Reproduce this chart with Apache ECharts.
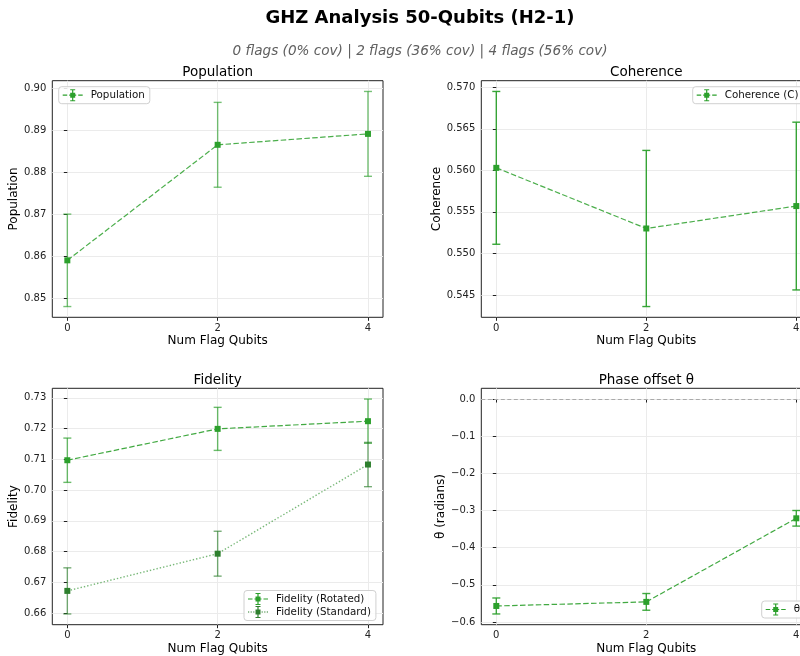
<!DOCTYPE html>
<html>
<head>
<meta charset="utf-8">
<script src="https://cdn.jsdelivr.net/npm/echarts@6/dist/echarts.min.js"></script>
<style>
  html, body { margin: 0; padding: 0; background: #fff; }
  #chart { width: 800px; height: 656px; }
</style>
</head>
<body>
<div id="chart"></div>
<script>
// values
var flagQubits = [0, 2, 4];
var xTicks = [0, 2, 4];
var population = [0.8590, 0.8865, 0.8891];
var populationErr = [0.0110, 0.0101, 0.0101];
var popTicks = [0.85, 0.86, 0.87, 0.88, 0.89, 0.90];
var coherence = [0.5603, 0.5530, 0.5557];
var coherenceErr = [0.0092, 0.0094, 0.0101];
var cohTicks = [0.545, 0.550, 0.555, 0.560, 0.565, 0.570];
var fidelityRot = [0.7097, 0.7199, 0.7224];
var fidelityRotErr = [0.0072, 0.0070, 0.0072];
var fidelityStd = [0.6672, 0.6793, 0.7083];
var fidelityStdErr = [0.0075, 0.0073, 0.0072];
var fidTicks = [0.66, 0.67, 0.68, 0.69, 0.70, 0.71, 0.72, 0.73];
var theta = [-0.557, -0.546, -0.321];
var thetaErr = [0.0215, 0.0225, 0.021];
var thetaTicks = [-0.6, -0.5, -0.4, -0.3, -0.2, -0.1, 0.0];

var FONT = 'DejaVu Sans';
var GREEN = '#2ca02c';
var DARK = '#2d7f2d';

var chart = echarts.init(document.getElementById('chart'), null, {renderer: 'canvas'});

// matplotlib-like autoscale with 5% margins
function yRange(series, extra) {
    var lo = Infinity, hi = -Infinity;
    series.forEach(function(s) {
        s[0].forEach(function(v, i) {
            lo = Math.min(lo, v - s[1][i]);
            hi = Math.max(hi, v + s[1][i]);
        });
    });
    (extra || []).forEach(function(v) { lo = Math.min(lo, v); hi = Math.max(hi, v); });
    var pad = (hi - lo) * 0.05;
    return [lo - pad, hi + pad];
}

var grids = [
    {left: 52.3, top: 80.7, width: 330.7, height: 236.6},
    {left: 481.3, top: 80.7, width: 330, height: 236.6},
    {left: 52.3, top: 388.3, width: 330.7, height: 236.4},
    {left: 481.3, top: 388.3, width: 330, height: 236.4}
].map(function(g) {
    g.show = true;
    g.borderColor = '#222';
    g.borderWidth = 1;
    g.backgroundColor = 'transparent';
    g.containLabel = false;
    g.outerBoundsMode = 'none';
    return g;
});

function xAxis(idx) {
    return {
        type: 'value', gridIndex: idx, min: -0.2, max: 4.2,
        name: 'Num Flag Qubits', nameLocation: 'middle', nameGap: 18,
        nameTextStyle: {fontFamily: FONT, fontSize: 12, color: '#000'},
        axisLine: {show: false},
        axisTick: {show: true, length: 3.5, customValues: xTicks, lineStyle: {color: '#222'}},
        axisLabel: {customValues: xTicks, margin: 6, fontFamily: FONT, fontSize: 10, color: '#222'},
        splitLine: {show: true, lineStyle: {color: '#ebebeb', width: 1}}
    };
}

function yAxis(idx, name, range, ticks, digits, gap) {
    return {
        type: 'value', gridIndex: idx, min: range[0], max: range[1],
        name: name, nameLocation: 'middle', nameGap: gap,
        nameTextStyle: {fontFamily: FONT, fontSize: 12, color: '#000'},
        axisLine: {show: false},
        axisTick: {show: true, length: 3.5, customValues: ticks, lineStyle: {color: '#222'}},
        axisLabel: {
            customValues: ticks, margin: 6, fontFamily: FONT, fontSize: 10, color: '#222',
            formatter: function(v) {
                var s = Math.abs(v).toFixed(digits);
                return (v < -1e-9 ? '\u2212' : '') + s;
            }
        },
        splitLine: {show: true, lineStyle: {color: '#ebebeb', width: 1}}
    };
}

function pts(ys) {
    return flagQubits.map(function(x, i) { return [x, ys[i]]; });
}

function lineSeries(name, idx, ys, color, dash, lineOpacity, width) {
    return {
        type: 'line', name: name, xAxisIndex: idx, yAxisIndex: idx,
        data: pts(ys), symbol: 'rect', symbolSize: 6, showSymbol: true,
        itemStyle: {color: color},
        lineStyle: {color: color, width: width || 1.2, type: dash, opacity: lineOpacity},
        z: 3, animation: false
    };
}

function errorBars(idx, ys, errs, color, opacity) {
    return {
        type: 'custom', xAxisIndex: idx, yAxisIndex: idx, silent: true, z: 2,
        data: flagQubits.map(function(x, i) { return [x, ys[i] - errs[i], ys[i] + errs[i]]; }),
        renderItem: function(params, api) {
            var lo = api.coord([api.value(0), api.value(1)]);
            var hi = api.coord([api.value(0), api.value(2)]);
            var cap = 4;
            var style = {stroke: color, lineWidth: 1.4, opacity: opacity};
            return {
                type: 'group',
                children: [
                    {type: 'line', shape: {x1: lo[0], y1: lo[1], x2: hi[0], y2: hi[1]}, style: style},
                    {type: 'line', shape: {x1: lo[0] - cap, y1: lo[1], x2: lo[0] + cap, y2: lo[1]}, style: style},
                    {type: 'line', shape: {x1: hi[0] - cap, y1: hi[1], x2: hi[0] + cap, y2: hi[1]}, style: style}
                ]
            };
        },
        animation: false
    };
}

// legend handles: line + square marker + error bar with caps (20 x 12 box)
var dashedIcon = 'path://M0,5.4h4.5v1.2h-4.5z M6.5,5.4h7v1.2h-7z M15.5,5.4h4.5v1.2h-4.5z M7.5,3.5h5v5h-5z M9.4,0h1.2v12h-1.2z M7.5,0h5v1h-5z M7.5,11h5v1h-5z';
var dottedIcon = 'path://M0,5.4h1.2v1.2h-1.2z M2.6,5.4h1.2v1.2h-1.2z M5.2,5.4h1.2v1.2h-1.2z M13.6,5.4h1.2v1.2h-1.2z M16.2,5.4h1.2v1.2h-1.2z M18.8,5.4h1.2v1.2h-1.2z M7.5,3.5h5v5h-5z M9.4,0h1.2v12h-1.2z M7.5,0h5v1h-5z M7.5,11h5v1h-5z';

function legend(items, left, top) {
    return {
        data: items, left: left, top: top, orient: 'vertical',
        itemWidth: 20, itemHeight: 12, itemGap: 1,
        padding: [2.5, 5, 2.5, 4],
        backgroundColor: 'rgba(255,255,255,0.85)',
        borderColor: '#d0d0d0', borderWidth: 1, borderRadius: 3,
        textStyle: {fontFamily: FONT, fontSize: 10.3, color: '#111', padding: [0, 0, 0, 3]},
        selectedMode: false
    };
}

function text(str, x, y, size, opts) {
    return {
        type: 'text', x: x, y: y, silent: true,
        style: Object.assign({
            text: str, fontFamily: FONT, fontSize: size, fill: '#000',
            textAlign: 'center', textVerticalAlign: 'middle'
        }, opts || {})
    };
}

var popRange = yRange([[population, populationErr]]);
var cohRange = yRange([[coherence, coherenceErr]]);
var fidRange = yRange([[fidelityRot, fidelityRotErr], [fidelityStd, fidelityStdErr]]);
var thRange = yRange([[theta, thetaErr]], [0]);

var thetaLine = lineSeries('θ', 3, theta, GREEN, [5.5, 2.4], 0.9);
thetaLine.markLine = {
    silent: true, symbol: 'none', label: {show: false},
    lineStyle: {color: '#aaaaaa', type: [4, 2.5], width: 1},
    data: [{yAxis: 0}]
};

var option = {
    animation: false,
    backgroundColor: '#ffffff',
    grid: grids,
    xAxis: [xAxis(0), xAxis(1), xAxis(2), xAxis(3)],
    yAxis: [
        yAxis(0, 'Population', popRange, popTicks, 2, 31),
        yAxis(1, 'Coherence', cohRange, cohTicks, 3, 37),
        yAxis(2, 'Fidelity', fidRange, fidTicks, 2, 31),
        yAxis(3, 'θ (radians)', thRange, thetaTicks, 1, 33)
    ],
    legend: [
        legend([{name: 'Population', icon: dashedIcon}], 58.7, 86.7),
        legend([{name: 'Coherence (C)', icon: dashedIcon}], 692.7, 86.7),
        legend([{name: 'Fidelity (Rotated)', icon: dashedIcon}, {name: 'Fidelity (Standard)', icon: dottedIcon}], 244, 590.5),
        legend([{name: 'θ', icon: dashedIcon}], 761.7, 601)
    ],
    graphic: [
        text('GHZ Analysis 50-Qubits (H2-1)', 420, 18, 18, {fontWeight: 'bold'}),
        text('0 flags (0% cov) | 2 flags (36% cov) | 4 flags (56% cov)', 420, 51, 13.6, {fontStyle: 'italic', fill: '#606060'}),
        text('Population', 217.7, 72, 13.5),
        text('Coherence', 646.3, 72, 13.5),
        text('Fidelity', 217.7, 380, 13.5),
        text('Phase offset θ', 646.3, 380, 13.5)
    ],
    series: [
        errorBars(0, population, populationErr, GREEN, 0.65),
        lineSeries('Population', 0, population, GREEN, [5.5, 2.4], 0.85),
        errorBars(1, coherence, coherenceErr, GREEN, 0.95),
        lineSeries('Coherence (C)', 1, coherence, GREEN, [5.5, 2.4], 0.85),
        errorBars(2, fidelityRot, fidelityRotErr, GREEN, 0.7),
        lineSeries('Fidelity (Rotated)', 2, fidelityRot, GREEN, [5.5, 2.4], 0.9),
        errorBars(2, fidelityStd, fidelityStdErr, DARK, 0.65),
        lineSeries('Fidelity (Standard)', 2, fidelityStd, '#3f9a3f', [1.4, 2], 0.7, 1.4),
        errorBars(3, theta, thetaErr, GREEN, 0.9),
        thetaLine
    ]
};
option.series[7].itemStyle.color = DARK;

chart.setOption(option);
</script>
</body>
</html>
